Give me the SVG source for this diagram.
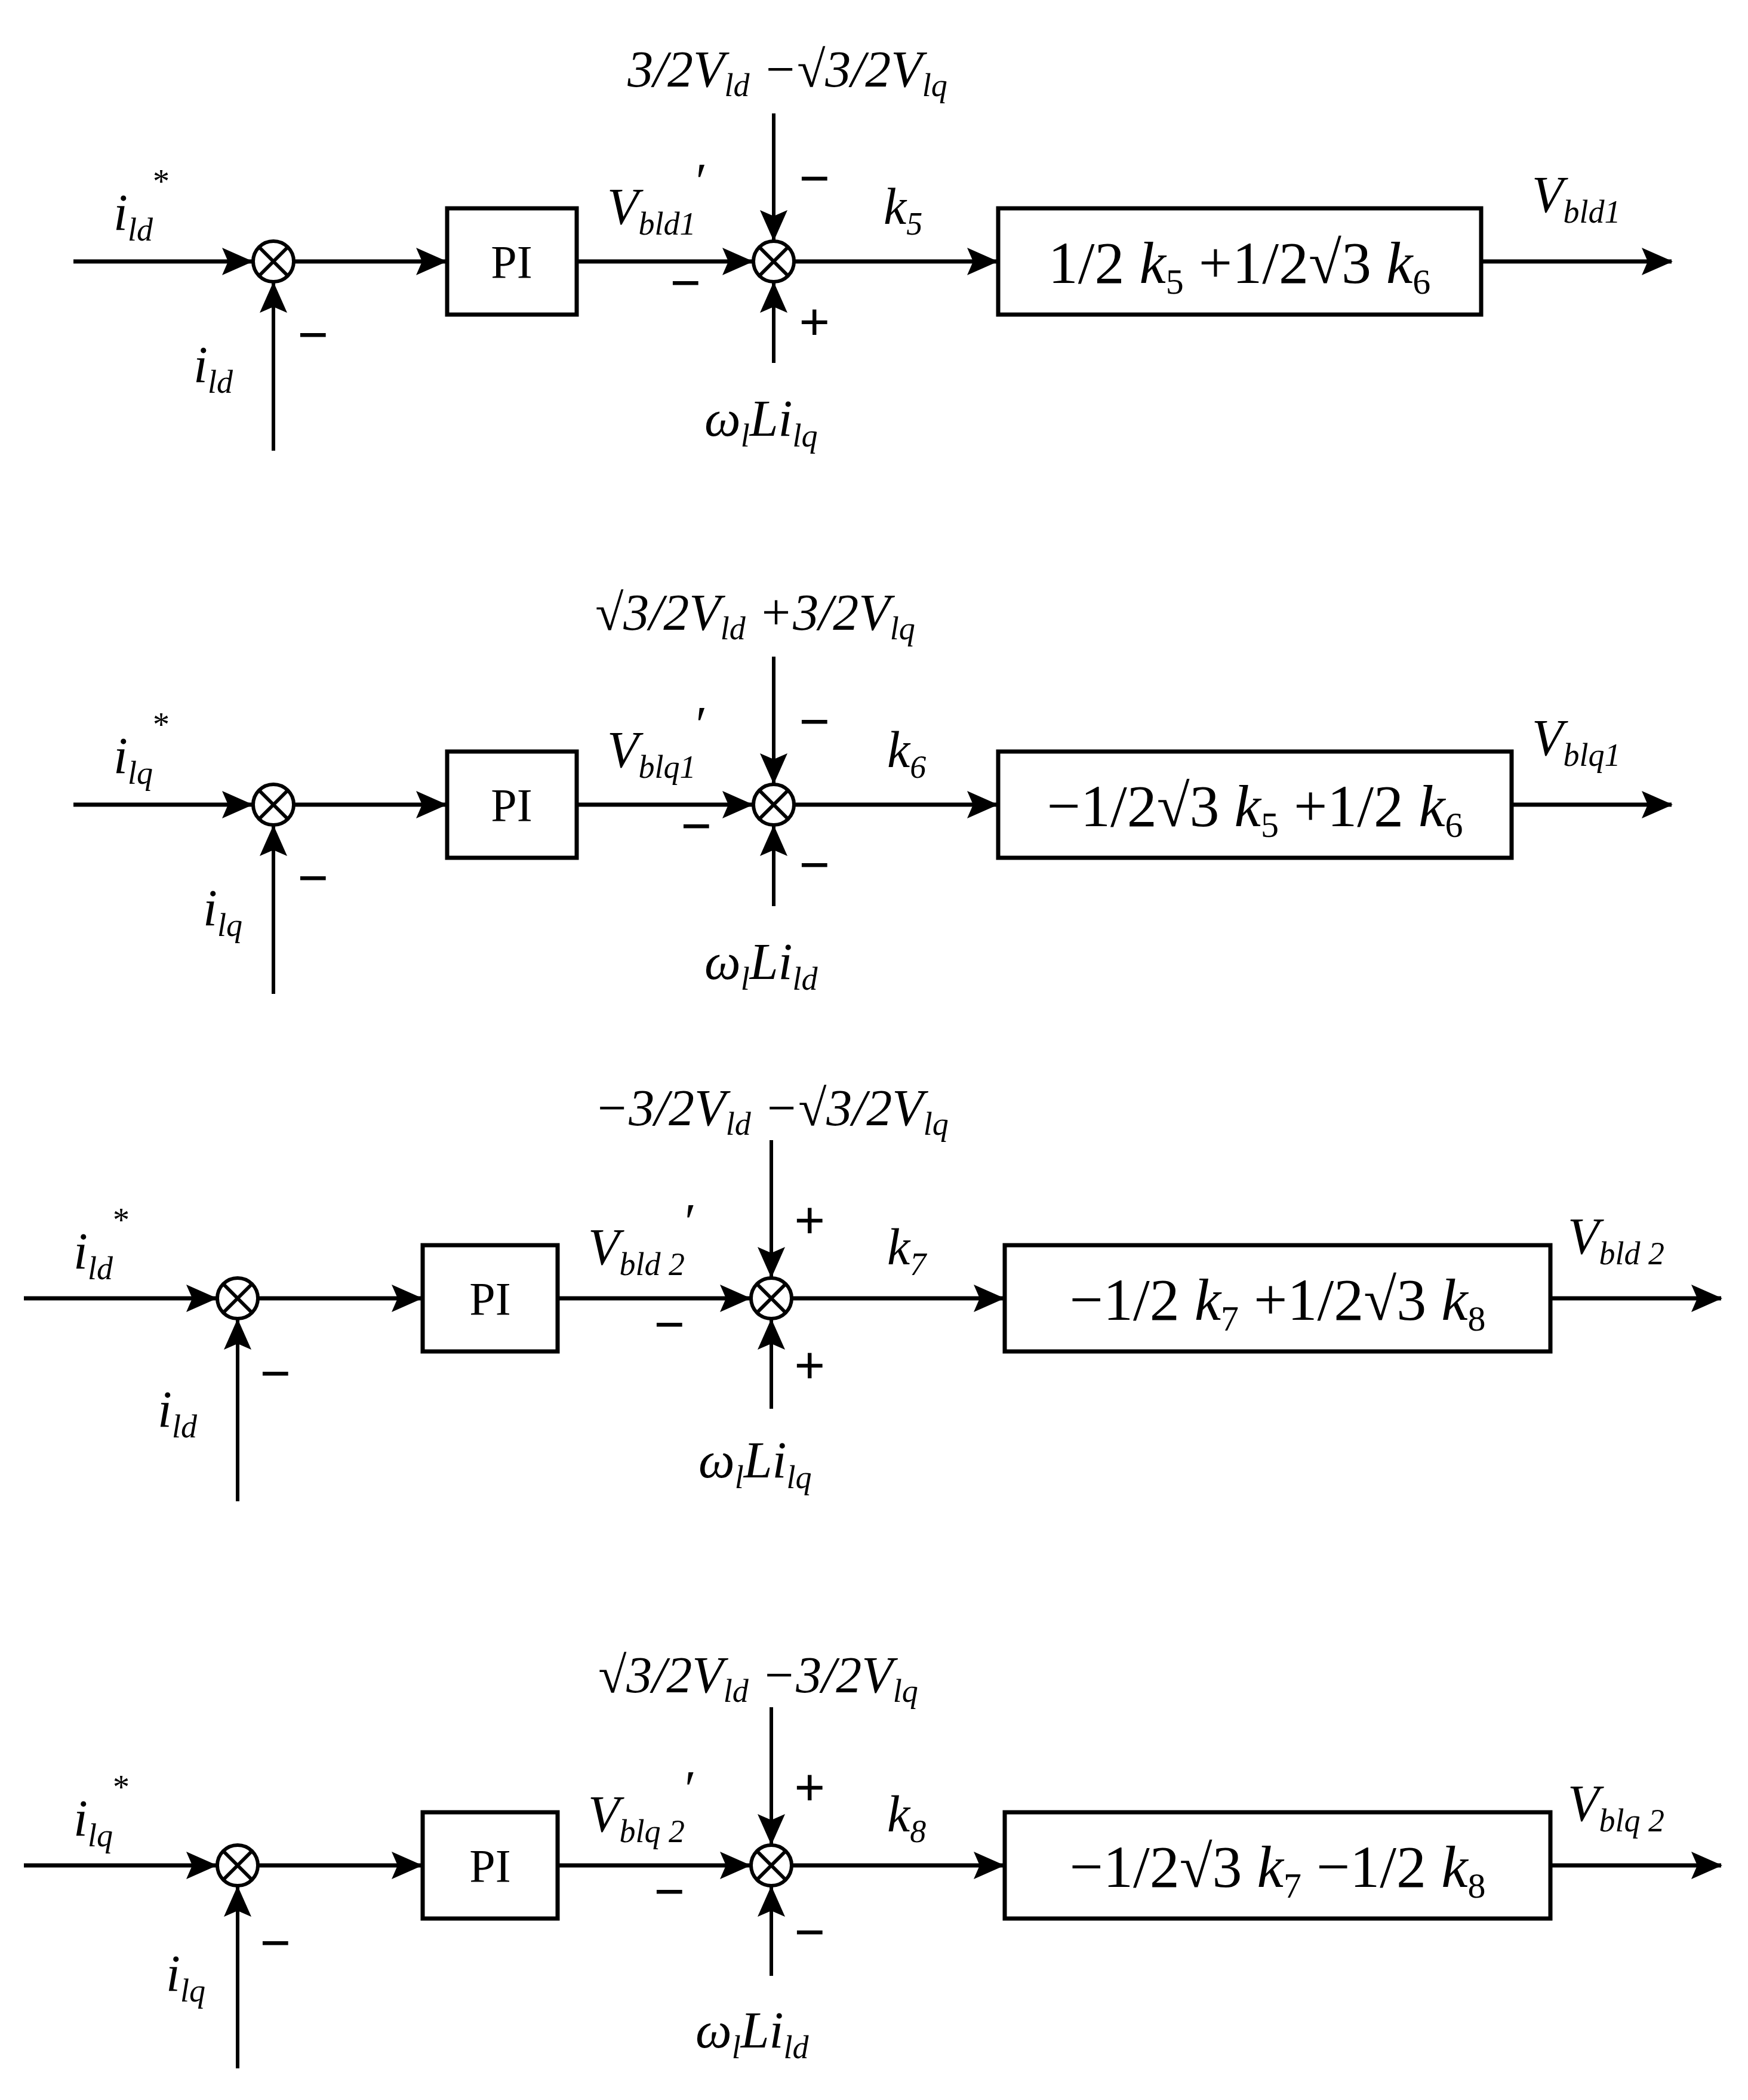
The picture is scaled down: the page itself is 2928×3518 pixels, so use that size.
<svg xmlns="http://www.w3.org/2000/svg" width="2928" height="3518" viewBox="0 0 2928 3518">
<style>
.l{stroke:#000;stroke-width:7;fill:none}
.v{stroke:#000;stroke-width:6;fill:none}
.b{stroke:#000;stroke-width:7;fill:#fff}
.s{stroke:#000;stroke-width:6;fill:#fff}
text{font-family:"Liberation Serif","Times New Roman",serif;fill:#000}
.t{font-size:86px;font-style:italic}
.bx{font-size:100px}
.sg{font-size:92px;font-weight:bold}
.pi{font-size:78px}
.sub{font-size:54px;font-style:italic}
</style>
<defs>
<marker id="a" markerUnits="userSpaceOnUse" markerWidth="54" markerHeight="46" refX="50" refY="23" orient="auto"><path d="M0,0 L52,23 L0,46 L10,23 Z" fill="#000"/></marker>
<g id="sum"><circle r="34" class="s"/><path d="M-24,-24 L24,24 M-24,24 L24,-24" class="v" stroke-width="5"/></g>
</defs>

<g id="connectors">
<path class="l" d="M123,438 H422" marker-end="url(#a)"/>
<path class="v" d="M458,755 V474" marker-end="url(#a)"/>
<path class="l" d="M492,438 H747" marker-end="url(#a)"/>
<path class="l" d="M966,438 H1260" marker-end="url(#a)"/>
<path class="v" d="M1296,190 V402" marker-end="url(#a)"/>
<path class="v" d="M1296,608 V474" marker-end="url(#a)"/>
<path class="l" d="M1330,438 H1670" marker-end="url(#a)"/>
<path class="l" d="M2481,438 H2800" marker-end="url(#a)"/>
<path class="l" d="M123,1348 H422" marker-end="url(#a)"/>
<path class="v" d="M458,1665 V1384" marker-end="url(#a)"/>
<path class="l" d="M492,1348 H747" marker-end="url(#a)"/>
<path class="l" d="M966,1348 H1260" marker-end="url(#a)"/>
<path class="v" d="M1296,1100 V1312" marker-end="url(#a)"/>
<path class="v" d="M1296,1518 V1384" marker-end="url(#a)"/>
<path class="l" d="M1330,1348 H1670" marker-end="url(#a)"/>
<path class="l" d="M2532,1348 H2800" marker-end="url(#a)"/>
<path class="l" d="M40,2175 H362" marker-end="url(#a)"/>
<path class="v" d="M398,2515 V2211" marker-end="url(#a)"/>
<path class="l" d="M432,2175 H706" marker-end="url(#a)"/>
<path class="l" d="M934,2175 H1256" marker-end="url(#a)"/>
<path class="v" d="M1292,1910 V2139" marker-end="url(#a)"/>
<path class="v" d="M1292,2360 V2211" marker-end="url(#a)"/>
<path class="l" d="M1326,2175 H1681" marker-end="url(#a)"/>
<path class="l" d="M2597,2175 H2883" marker-end="url(#a)"/>
<path class="l" d="M40,3125 H362" marker-end="url(#a)"/>
<path class="v" d="M398,3465 V3161" marker-end="url(#a)"/>
<path class="l" d="M432,3125 H706" marker-end="url(#a)"/>
<path class="l" d="M934,3125 H1256" marker-end="url(#a)"/>
<path class="v" d="M1292,2860 V3089" marker-end="url(#a)"/>
<path class="v" d="M1292,3310 V3161" marker-end="url(#a)"/>
<path class="l" d="M1326,3125 H1681" marker-end="url(#a)"/>
<path class="l" d="M2597,3125 H2883" marker-end="url(#a)"/>
</g>

<g id="sum1a"><use href="#sum" x="458" y="438"/></g>
<g id="pi1"><rect class="b" x="749" y="349" width="217" height="178"/><text class="pi" x="857" y="465" text-anchor="middle">PI</text></g>
<g id="sum1b"><use href="#sum" x="1296" y="438"/></g>
<g id="box1"><rect class="b" x="1672" y="349" width="809" height="178"/><text class="bx" x="2076" y="474" text-anchor="middle">1/2<tspan font-style="italic"> k</tspan><tspan font-size="60" dy="18">5</tspan><tspan dy="-18"> +1/2√3 </tspan><tspan font-style="italic">k</tspan><tspan font-size="60" dy="18">6</tspan></text></g>
<g id="labels1">
<text class="t" x="1319" y="145" text-anchor="middle" font-style="normal">3/2<tspan font-style="italic">V</tspan><tspan class="sub" dy="16">ld</tspan><tspan dy="-16"> −√3/2</tspan><tspan font-style="italic">V</tspan><tspan class="sub" dy="16">lq</tspan></text>
<text class="t" x="190" y="385">i<tspan class="sub" dy="18">ld</tspan><tspan dy="-80" font-size="56" font-style="normal">*</tspan></text>
<text class="t" x="324" y="640">i<tspan class="sub" dy="18">ld</tspan></text>
<text class="sg" x="498" y="592">−</text>
<text class="t" x="1017" y="375">V<tspan class="sub" dy="18">bld</tspan><tspan class="sub" font-style="normal">1</tspan><tspan dy="-60" font-style="normal">′</tspan></text>
<text class="sg" x="1122" y="505">−</text>
<text class="sg" x="1338" y="330">−</text>
<text class="sg" x="1338" y="570">+</text>
<text class="t" x="1480" y="375">k<tspan class="sub" dy="18" font-style="normal">5</tspan></text>
<text class="t" x="2566" y="355">V<tspan class="sub" dy="18">bld</tspan><tspan class="sub" font-style="normal">1</tspan></text>
<text class="t" x="1180" y="730">ω<tspan class="sub" dy="18">l</tspan><tspan dy="-18">Li</tspan><tspan class="sub" dy="18">lq</tspan></text>
</g>

<g id="sum2a"><use href="#sum" x="458" y="1348"/></g>
<g id="pi2"><rect class="b" x="749" y="1259" width="217" height="178"/><text class="pi" x="857" y="1375" text-anchor="middle">PI</text></g>
<g id="sum2b"><use href="#sum" x="1296" y="1348"/></g>
<g id="box2"><rect class="b" x="1672" y="1259" width="860" height="178"/><text class="bx" x="2102" y="1384" text-anchor="middle">−1/2√3 <tspan font-style="italic">k</tspan><tspan font-size="60" dy="18">5</tspan><tspan dy="-18"> +1/2 </tspan><tspan font-style="italic">k</tspan><tspan font-size="60" dy="18">6</tspan></text></g>
<g id="labels2">
<text class="t" x="1265" y="1055" text-anchor="middle" font-style="normal">√3/2<tspan font-style="italic">V</tspan><tspan class="sub" dy="16">ld</tspan><tspan dy="-16"> +3/2</tspan><tspan font-style="italic">V</tspan><tspan class="sub" dy="16">lq</tspan></text>
<text class="t" x="190" y="1295">i<tspan class="sub" dy="18">lq</tspan><tspan dy="-80" font-size="56" font-style="normal">*</tspan></text>
<text class="t" x="340" y="1550">i<tspan class="sub" dy="18">lq</tspan></text>
<text class="sg" x="498" y="1502">−</text>
<text class="t" x="1017" y="1285">V<tspan class="sub" dy="18">blq</tspan><tspan class="sub" font-style="normal">1</tspan><tspan dy="-60" font-style="normal">′</tspan></text>
<text class="sg" x="1140" y="1415">−</text>
<text class="sg" x="1338" y="1240">−</text>
<text class="sg" x="1338" y="1480">−</text>
<text class="t" x="1486" y="1285">k<tspan class="sub" dy="18" font-style="normal">6</tspan></text>
<text class="t" x="2566" y="1265">V<tspan class="sub" dy="18">blq</tspan><tspan class="sub" font-style="normal">1</tspan></text>
<text class="t" x="1180" y="1640">ω<tspan class="sub" dy="18">l</tspan><tspan dy="-18">Li</tspan><tspan class="sub" dy="18">ld</tspan></text>
</g>

<g id="sum3a"><use href="#sum" x="398" y="2175"/></g>
<g id="pi3"><rect class="b" x="708" y="2086" width="226" height="178"/><text class="pi" x="821" y="2202" text-anchor="middle">PI</text></g>
<g id="sum3b"><use href="#sum" x="1292" y="2175"/></g>
<g id="box3"><rect class="b" x="1683" y="2086" width="914" height="178"/><text class="bx" x="2140" y="2211" text-anchor="middle">−1/2 <tspan font-style="italic">k</tspan><tspan font-size="60" dy="18">7</tspan><tspan dy="-18"> +1/2√3 </tspan><tspan font-style="italic">k</tspan><tspan font-size="60" dy="18">8</tspan></text></g>
<g id="labels3">
<text class="t" x="1292" y="1885" text-anchor="middle" font-style="normal">−3/2<tspan font-style="italic">V</tspan><tspan class="sub" dy="16">ld</tspan><tspan dy="-16"> −√3/2</tspan><tspan font-style="italic">V</tspan><tspan class="sub" dy="16">lq</tspan></text>
<text class="t" x="123" y="2125">i<tspan class="sub" dy="18">ld</tspan><tspan dy="-80" font-size="56" font-style="normal">*</tspan></text>
<text class="t" x="264" y="2390">i<tspan class="sub" dy="18">ld</tspan></text>
<text class="sg" x="435" y="2332">−</text>
<text class="t" x="985" y="2118">V<tspan class="sub" dy="18">bld</tspan><tspan class="sub" font-style="normal"> 2</tspan><tspan dy="-60" font-style="normal">′</tspan></text>
<text class="sg" x="1095" y="2250">−</text>
<text class="sg" x="1330" y="2075">+</text>
<text class="sg" x="1330" y="2318">+</text>
<text class="t" x="1486" y="2118">k<tspan class="sub" dy="18" font-style="normal">7</tspan></text>
<text class="t" x="2626" y="2100">V<tspan class="sub" dy="18">bld</tspan><tspan class="sub" font-style="normal"> 2</tspan></text>
<text class="t" x="1170" y="2475">ω<tspan class="sub" dy="18">l</tspan><tspan dy="-18">Li</tspan><tspan class="sub" dy="18">lq</tspan></text>
</g>

<g id="sum4a"><use href="#sum" x="398" y="3125"/></g>
<g id="pi4"><rect class="b" x="708" y="3036" width="226" height="178"/><text class="pi" x="821" y="3152" text-anchor="middle">PI</text></g>
<g id="sum4b"><use href="#sum" x="1292" y="3125"/></g>
<g id="box4"><rect class="b" x="1683" y="3036" width="914" height="178"/><text class="bx" x="2140" y="3161" text-anchor="middle">−1/2√3 <tspan font-style="italic">k</tspan><tspan font-size="60" dy="18">7</tspan><tspan dy="-18"> −1/2 </tspan><tspan font-style="italic">k</tspan><tspan font-size="60" dy="18">8</tspan></text></g>
<g id="labels4">
<text class="t" x="1270" y="2835" text-anchor="middle" font-style="normal">√3/2<tspan font-style="italic">V</tspan><tspan class="sub" dy="16">ld</tspan><tspan dy="-16"> −3/2</tspan><tspan font-style="italic">V</tspan><tspan class="sub" dy="16">lq</tspan></text>
<text class="t" x="123" y="3075">i<tspan class="sub" dy="18">lq</tspan><tspan dy="-80" font-size="56" font-style="normal">*</tspan></text>
<text class="t" x="278" y="3335">i<tspan class="sub" dy="18">lq</tspan></text>
<text class="sg" x="435" y="3286">−</text>
<text class="t" x="985" y="3068">V<tspan class="sub" dy="18">blq</tspan><tspan class="sub" font-style="normal"> 2</tspan><tspan dy="-60" font-style="normal">′</tspan></text>
<text class="sg" x="1095" y="3200">−</text>
<text class="sg" x="1330" y="3025">+</text>
<text class="sg" x="1330" y="3268">−</text>
<text class="t" x="1486" y="3068">k<tspan class="sub" dy="18" font-style="normal">8</tspan></text>
<text class="t" x="2626" y="3050">V<tspan class="sub" dy="18">blq</tspan><tspan class="sub" font-style="normal"> 2</tspan></text>
<text class="t" x="1165" y="3430">ω<tspan class="sub" dy="18">l</tspan><tspan dy="-18">Li</tspan><tspan class="sub" dy="18">ld</tspan></text>
</g>
</svg>
